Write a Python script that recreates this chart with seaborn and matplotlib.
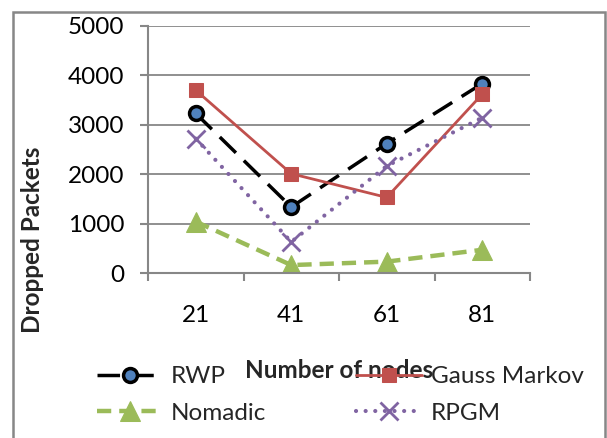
import matplotlib
matplotlib.use("Agg")
import matplotlib.pyplot as plt
import seaborn as sns
import pandas as pd
from matplotlib.patches import Rectangle

categories = ["21", "41", "61", "81"]
rwp = [3230, 1335, 2620, 3835]
gauss_markov = [3700, 2010, 1530, 3620]
nomadic = [1040, 160, 230, 470]
rpgm = [2720, 630, 2165, 3145]

sns.set_theme(style="white")
plt.rcParams['font.family'] = ['Lato', 'DejaVu Sans']

FS = 17.5
fig = plt.figure(figsize=(6.07, 4.38), dpi=100)
ax = fig.add_axes([148/607, 1-273/438, 382/607, 247/438])

pos = list(range(1, len(categories) + 1))
df = pd.DataFrame({"x": pos, "RWP": rwp, "Gauss Markov": gauss_markov,
                   "Nomadic": nomadic, "RPGM": rpgm})

sns.lineplot(data=df, x="x", y="RWP", ax=ax, color="black", lw=2.5,
             marker="o", markersize=10, markerfacecolor="#4F81BD",
             markeredgecolor="black", markeredgewidth=2.5,
             dashes=(6.5, 3.2), label="RWP", zorder=3)
sns.lineplot(data=df, x="x", y="Gauss Markov", ax=ax, color="#C0504D", lw=2.0,
             marker="s", markersize=10, markerfacecolor="#C0504D",
             markeredgecolor="#C0504D", label="Gauss Markov", zorder=4)
sns.lineplot(data=df, x="x", y="Nomadic", ax=ax, color="#9BBB59", lw=3.2,
             marker="^", markersize=15, markerfacecolor="#9BBB59",
             markeredgecolor="#9BBB59", dashes=(3.2, 1.8),
             label="Nomadic", zorder=2)
sns.lineplot(data=df, x="x", y="RPGM", ax=ax, color="#8064A2", lw=3.0,
             marker="x", markersize=13, markeredgewidth=2.0,
             markeredgecolor="#8064A2", markerfacecolor="#8064A2",
             dashes=(0.01, 2.3), dash_capstyle="round",
             label="RPGM", zorder=5)

ax.set_xlim(0.5, len(categories) + 0.5)
ax.set_ylim(0, 5000)
ax.set_yticks([0, 1000, 2000, 3000, 4000, 5000])
ax.set_xticks(pos)
ax.set_xticklabels(categories)
ax.set_xticks([p + 0.5 for p in [0] + pos], minor=True)
ax.tick_params(axis="x", which="major", length=0, pad=23, labelsize=FS, colors="black")
ax.tick_params(axis="x", which="minor", length=6, width=1.5, color="#878787", direction="out", bottom=True)
ax.tick_params(axis="y", length=6, width=1.5, color="#878787", pad=11, labelsize=FS, left=True, direction="out")
for lab in ax.get_xticklabels() + ax.get_yticklabels():
    lab.set_color("black")
ax.set_xlabel("")
ax.set_ylabel("")
ax.grid(axis="y", color="#878787", lw=1.3)
ax.set_axisbelow(True)
for s in ["top", "right"]:
    ax.spines[s].set_visible(False)
for s in ["left", "bottom"]:
    ax.spines[s].set_color("#878787")
    ax.spines[s].set_linewidth(1.5)
ax.get_legend().remove()

handles, labels = ax.get_legend_handles_labels()
hmap = dict(zip(labels, handles))
order = ["RWP", "Nomadic", "Gauss Markov", "RPGM"]

fig.text(339/607, 1-371/438, "Number of nodes", ha="center", va="center",
         fontsize=FS, fontweight="bold", zorder=1)
fig.text(33/607, 1-240/438, "Dropped Packets", ha="center", va="center",
         rotation=90, fontsize=FS, fontweight="bold")

leg = fig.legend([hmap[o] for o in order], order, ncol=2, loc="center left",
                 bbox_to_anchor=(97/607, 1-395/438), frameon=False,
                 fontsize=FS, handlelength=2.7, handletextpad=0.35,
                 columnspacing=3.7, labelspacing=0.65, borderpad=0,
                 borderaxespad=0)
leg.set_zorder(5)

fig.patches.append(Rectangle((13/607, -0.1), 592/607, 1.1 - 12/438,
                             transform=fig.transFigure, fill=False,
                             edgecolor="#878787", lw=1.8, zorder=0))

fig.savefig("out.png", dpi=100)
